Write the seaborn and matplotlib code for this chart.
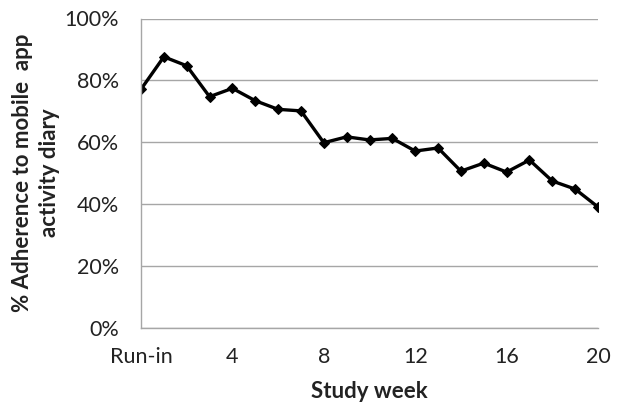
import matplotlib
matplotlib.use("Agg")
import matplotlib.pyplot as plt
import seaborn as sns
import pandas as pd
from matplotlib.ticker import PercentFormatter

weeks = list(range(0, 21))
adherence = [77.1, 87.6, 84.7, 74.7, 77.4, 73.4, 70.6, 70.1, 59.8, 61.7, 60.7,
             61.2, 57.1, 58.1, 50.6, 53.2, 50.3, 54.2, 47.4, 44.8, 39.0]
xtick_pos = [0, 4, 8, 12, 16, 20]
xtick_labels = ["Run-in", "4", "8", "12", "16", "20"]
ytick_pos = [0, 20, 40, 60, 80, 100]

df = pd.DataFrame({"week": weeks, "adherence": adherence})

sns.set_style("white")
plt.rcParams["font.family"] = ["Lato", "DejaVu Sans"]

fig = plt.figure(figsize=(6.18, 4.12), dpi=100)
ax = fig.add_axes([141/618, 1-327.5/412, (598-141)/618, (327.5-18.5)/412])

sns.lineplot(data=df, x="week", y="adherence", ax=ax, color="black",
             linewidth=2.4, marker="D", markersize=5.5, markeredgecolor="black")

ax.set_xlim(0, 20)
ax.set_ylim(0, 100)
ax.set_xticks(xtick_pos)
ax.set_xticklabels(xtick_labels)
ax.set_yticks(ytick_pos)
ax.yaxis.set_major_formatter(PercentFormatter(decimals=0))
ax.grid(axis="y", color="#a6a6a6", linewidth=1.0)
ax.set_axisbelow(True)
for s in ["top", "right"]:
    ax.spines[s].set_visible(False)
for s in ["left", "bottom"]:
    ax.spines[s].set_color("#a6a6a6")
    ax.spines[s].set_linewidth(1.0)
ax.tick_params(axis="both", which="both", direction="out", length=5, width=1.0,
               color="#a6a6a6", labelsize=15.5, labelcolor="#222222")
ax.tick_params(axis="x", pad=9)
ax.tick_params(axis="y", pad=11)

ax.set_xlabel("Study week", fontsize=16, fontweight="bold", color="#222222", labelpad=10)
ax.set_ylabel("% Adherence to mobile  app\nactivity diary", fontsize=16,
              fontweight="bold", color="#222222", labelpad=3, linespacing=1.35)

fig.savefig("out.png", dpi=100)
